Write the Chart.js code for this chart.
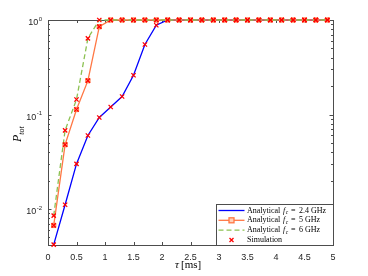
<!DOCTYPE html>
<html>
<head>
<meta charset="utf-8">
<script src="https://cdn.jsdelivr.net/npm/chart.js@4/dist/chart.umd.min.js"></script>
<style>
body { margin: 0; background: #fff; }
#wrap { width: 368px; height: 276px; }
</style>
</head>
<body>
<div id="wrap"><canvas id="chart"></canvas></div>
<script>
// delay values tau [ms]
var tau = [0.1, 0.3, 0.5, 0.7, 0.9, 1.1, 1.3, 1.5, 1.7, 1.9, 2.1, 2.3, 2.5,
           2.7, 2.9, 3.1, 3.3, 3.5, 3.7, 3.9, 4.1, 4.3, 4.5, 4.7, 4.9];

var ana24 = [0.0042, 0.0111, 0.030, 0.060, 0.093, 0.12, 0.155, 0.26, 0.55, 0.88, 1, 1, 1,
             1, 1, 1, 1, 1, 1, 1, 1, 1, 1, 1, 1];
var ana5  = [0.0067, 0.048, 0.113, 0.228, 0.85, 1, 1, 1, 1, 1, 1, 1, 1,
             1, 1, 1, 1, 1, 1, 1, 1, 1, 1, 1, 1];
var ana6  = [0.0085, 0.068, 0.144, 0.64, 1, 1, 1, 1, 1, 1, 1, 1, 1,
             1, 1, 1, 1, 1, 1, 1, 1, 1, 1, 1, 1];

var sim24 = [0.0042, 0.0111, 0.030, 0.060, 0.093, 0.12, 0.155, 0.26, 0.55, 0.88, 1, 1, 1,
             1, 1, 1, 1, 1, 1, 1, 1, 1, 1, 1, 1];
var sim5  = [0.0067, 0.048, 0.113, 0.228, 0.85, 1, 1, 1, 1, 1, 1, 1, 1,
             1, 1, 1, 1, 1, 1, 1, 1, 1, 1, 1, 1];
var sim6  = [0.0085, 0.068, 0.144, 0.64, 1, 1, 1, 1, 1, 1, 1, 1, 1,
             1, 1, 1, 1, 1, 1, 1, 1, 1, 1, 1, 1];

var xTicks = [0, 0.5, 1, 1.5, 2, 2.5, 3, 3.5, 4, 4.5, 5];
var yMajor = [0.01, 0.1, 1];
var yExp = ['-2', '-1', '0'];

var blue = '#0000ff';
var orange = '#ff7744';
var green = '#8cc152';
var red = '#ff0000';
var axisColor = '#4d4d4d';

function pts(ys) {
    return tau.map(function (t, i) { return { x: t, y: ys[i] }; });
}

function simSet(ys) {
    return {
        data: pts(ys),
        showLine: false,
        pointStyle: 'crossRot',
        pointRadius: 3,
        pointBorderColor: red,
        pointBorderWidth: 1.3,
        borderColor: red,
        clip: false,
        order: 0
    };
}

var serif = '"Liberation Serif", "DejaVu Serif", serif';
var sans = '"Liberation Sans", Arial, sans-serif';

var frame = {
    id: 'frame',
    beforeDatasetsDraw: function (chart) {
        var ctx = chart.ctx, a = chart.chartArea;
        var xs = chart.scales.x, ys = chart.scales.y;
        ctx.save();
        ctx.strokeStyle = axisColor;
        ctx.lineWidth = 1;
        ctx.strokeRect(a.left + 0.5, a.top + 0.5, a.right - a.left, a.bottom - a.top);
        // x ticks, inward on bottom and top
        xTicks.forEach(function (v) {
            var px = Math.round(xs.getPixelForValue(v)) + 0.5;
            ctx.beginPath();
            ctx.moveTo(px, a.bottom); ctx.lineTo(px, a.bottom - 3);
            ctx.moveTo(px, a.top); ctx.lineTo(px, a.top + 3);
            ctx.stroke();
        });
        // y ticks, log major + minor
        for (var e = -3; e <= 0; e++) {
            for (var m = 1; m <= 9; m++) {
                var v = m * Math.pow(10, e);
                if (v < ys.min - 1e-9 || v > ys.max + 1e-9) continue;
                var py = Math.round(ys.getPixelForValue(v)) + 0.5;
                var len = m === 1 ? 3.5 : 2;
                ctx.beginPath();
                ctx.moveTo(a.left, py); ctx.lineTo(a.left + len, py);
                ctx.moveTo(a.right, py); ctx.lineTo(a.right - len, py);
                ctx.stroke();
            }
        }
        // y tick labels
        ctx.fillStyle = '#262626';
        ctx.textBaseline = 'middle';
        yMajor.forEach(function (v, i) {
            var py = ys.getPixelForValue(v);
            ctx.font = '6px ' + sans;
            ctx.textAlign = 'right';
            ctx.fillText(yExp[i], a.left - 6, py - 1);
            var w = ctx.measureText(yExp[i]).width;
            ctx.font = '9px ' + sans;
            ctx.fillText('10', a.left - 6 - w - 0.5, py + 3);
        });
        // axis titles
        ctx.fillStyle = '#000';
        ctx.textBaseline = 'alphabetic';
        ctx.textAlign = 'left';
        ctx.font = 'italic 11px ' + serif;
        ctx.fillText('\u03c4', 175, 268);
        ctx.font = '11px ' + serif;
        ctx.fillText('[ms]', 181, 268);
        ctx.save();
        ctx.translate(21, 133);
        ctx.rotate(-Math.PI / 2);
        ctx.font = 'italic 12px ' + serif;
        ctx.fillText('P', -9, 0);
        var pw = ctx.measureText('P').width;
        ctx.font = 'italic 8px ' + serif;
        ctx.fillText('tot', -9 + pw, 3);
        ctx.restore();
        ctx.restore();
    },
    afterDraw: function (chart) {
        var ctx = chart.ctx, a = chart.chartArea;
        var bx = 216.5, by = 204.5, bw = a.right - 216, bh = a.bottom - 204;
        ctx.save();
        ctx.fillStyle = '#fff';
        ctx.fillRect(bx, by, bw, bh);
        ctx.strokeStyle = axisColor;
        ctx.lineWidth = 1;
        ctx.strokeRect(bx, by, bw, bh);
        var rows = [210.5, 220.3, 230.1, 240];
        var x0 = 218.5, x1 = 244.5, xm = 231.5;
        // blue line
        ctx.strokeStyle = blue; ctx.lineWidth = 1.3;
        ctx.beginPath(); ctx.moveTo(x0, rows[0]); ctx.lineTo(x1, rows[0]); ctx.stroke();
        // orange line with square
        ctx.strokeStyle = orange;
        ctx.beginPath(); ctx.moveTo(x0, rows[1]); ctx.lineTo(x1, rows[1]); ctx.stroke();
        ctx.fillStyle = '#ffd0b8';
        ctx.fillRect(xm - 2.5, rows[1] - 2.5, 5, 5);
        ctx.strokeRect(xm - 2.5, rows[1] - 2.5, 5, 5);
        // green dashed
        ctx.strokeStyle = green;
        ctx.setLineDash([5, 3]);
        ctx.beginPath(); ctx.moveTo(x0, rows[2]); ctx.lineTo(x1, rows[2]); ctx.stroke();
        ctx.setLineDash([]);
        // red cross
        ctx.strokeStyle = red; ctx.lineWidth = 1.3;
        ctx.beginPath();
        ctx.moveTo(xm - 2, rows[3] - 2); ctx.lineTo(xm + 2, rows[3] + 2);
        ctx.moveTo(xm - 2, rows[3] + 2); ctx.lineTo(xm + 2, rows[3] - 2);
        ctx.stroke();
        // text
        ctx.fillStyle = '#000';
        ctx.textBaseline = 'middle';
        ctx.textAlign = 'left';
        var freqs = ['2.4', '5', '6'];
        for (var i = 0; i < 3; i++) {
            var y = rows[i];
            ctx.font = '8px ' + serif;
            ctx.fillText('Analytical', 247, y);
            ctx.font = 'italic 8px ' + serif;
            ctx.fillText('f', 283, y);
            ctx.font = 'italic 5.5px ' + serif;
            ctx.fillText('c', 285.8, y + 2);
            ctx.font = '8px ' + serif;
            ctx.fillText('=', 291, y);
            ctx.fillText(freqs[i] + ' GHz', 299, y);
        }
        ctx.font = '8px ' + serif;
        ctx.fillText('Simulation', 247, rows[3]);
        ctx.restore();
    }
};

new Chart(document.getElementById('chart'), {
    type: 'line',
    data: {
        datasets: [
            simSet(sim24), simSet(sim5), simSet(sim6),
            {
                data: pts(ana6),
                borderColor: green,
                borderWidth: 1.3,
                borderDash: [5, 3],
                pointRadius: 0,
                clip: false,
                order: 1
            },
            {
                data: pts(ana5),
                borderColor: orange,
                borderWidth: 1.3,
                pointStyle: 'rect',
                pointRadius: 3,
                pointBackgroundColor: '#ffd0b8',
                pointBorderColor: orange,
                pointBorderWidth: 1,
                clip: false,
                order: 2
            },
            {
                data: pts(ana24),
                borderColor: blue,
                borderWidth: 1.3,
                pointRadius: 0,
                clip: false,
                order: 3
            }
        ]
    },
    options: {
        responsive: true,
        maintainAspectRatio: false,
        animation: false,
        events: [],
        layout: { padding: { left: 0, right: 35, top: 20, bottom: 0 } },
        plugins: { legend: { display: false }, tooltip: { enabled: false } },
        scales: {
            x: {
                type: 'linear',
                min: 0,
                max: 5,
                grid: { display: false, drawTicks: false },
                border: { display: false },
                afterBuildTicks: function (s) {
                    s.ticks = xTicks.map(function (v) { return { value: v }; });
                },
                afterFit: function (s) { s.height = 31; },
                ticks: {
                    padding: 7,
                    color: '#262626',
                    font: { family: sans, size: 9 },
                    maxRotation: 0,
                    autoSkip: false,
                    callback: function (v) { return String(v); }
                }
            },
            y: {
                type: 'logarithmic',
                min: 0.00416,
                max: 1,
                grid: { display: false, drawTicks: false },
                border: { display: false },
                afterFit: function (s) { s.width = 48; },
                ticks: { display: false }
            }
        }
    },
    plugins: [frame]
});
</script>
</body>
</html>
